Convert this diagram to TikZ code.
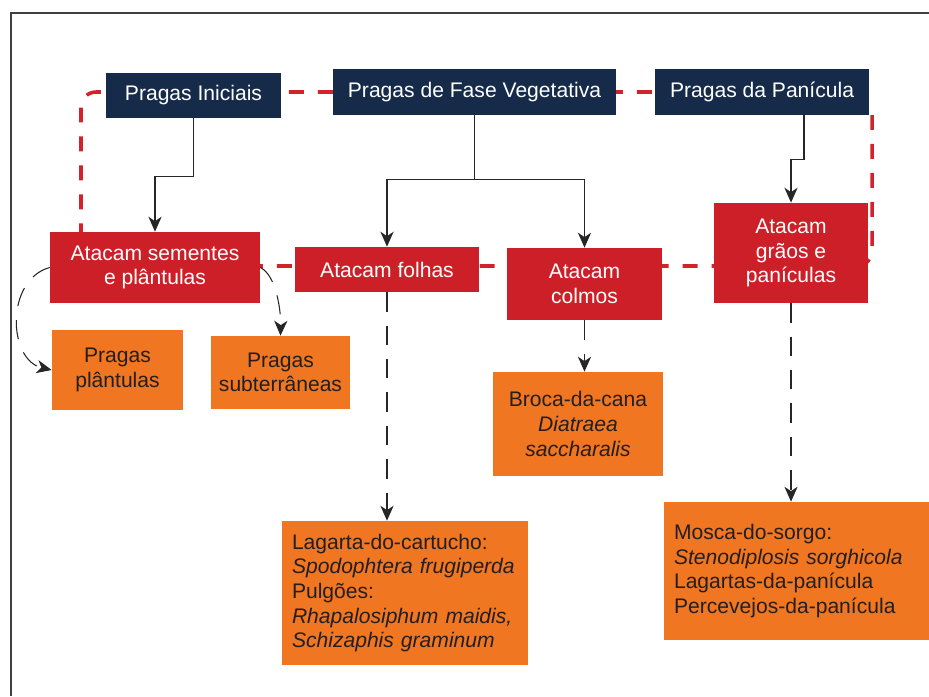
\documentclass[tikz,border=0pt]{standalone}
\usepackage{fontspec}
\setmainfont{Liberation Sans}
\usetikzlibrary{arrows.meta, positioning, backgrounds}

\definecolor{navy}{RGB}{22,42,74}
\definecolor{pestred}{RGB}{204,31,39}
\definecolor{pestorange}{RGB}{240,118,34}
\definecolor{inkdark}{RGB}{35,31,32}
\definecolor{loopred}{RGB}{210,35,42}

\begin{document}
\begin{tikzpicture}[x=0.02cm, y=-0.02cm, >={Stealth[length=8.5pt, width=7.5pt, inset=2.5pt]},
  font=\fontsize{12}{14}\selectfont,
  phase/.style={fill=navy, text=white, inner sep=0pt, align=center},
  attack/.style={fill=pestred, text=white, inner sep=0pt, align=center},
  pest/.style={fill=pestorange, text=inkdark, inner sep=0pt, align=center},
  pestlist/.style={fill=pestorange, text=inkdark, inner xsep=0.2cm, inner ysep=0pt, align=left},
  link/.style={->, line width=0.7pt, draw=black!85},
  guess/.style={->, line width=0.6pt, draw=black!85, dash pattern=on 11pt off 8pt},
  redloop/.style={draw=loopred, line width=2pt, dash pattern=on 8.5pt off 8pt, rounded corners=0.3cm}]

  \useasboundingbox (0,0) rectangle (929,696);
  \draw[line width=1pt, black!75] (11,696) -- (11,13) -- (929,13);

  % fases
  \node[phase, minimum width=3.5cm, minimum height=0.9cm] (ini) at (193.5,95.5) {Pragas Iniciais};
  \node[phase, minimum width=5.66cm, minimum height=0.92cm] (veg) at (474.5,92) {Pragas de Fase Vegetativa};
  \node[phase, minimum width=4.28cm, minimum height=0.92cm] (pan) at (762,92) {Pragas da Panícula};

  % o que atacam
  \node[attack, minimum width=4.2cm, minimum height=1.42cm] (sem) at (155,267.5) {Atacam sementes\\e plântulas};
  \node[attack, minimum width=3.68cm, minimum height=0.9cm] (fol) at (387,269.5) {Atacam folhas};
  \node[attack, minimum width=3.1cm, minimum height=1.44cm] (col) at (584.5,284) {Atacam\\colmos};
  \node[attack, minimum width=3.08cm, minimum height=2cm] (gra) at (791,253) {Atacam\\grãos e\\panículas};

  % pragas
  \node[pest, minimum width=2.62cm, minimum height=1.6cm] (pla) at (117.5,370) {Pragas\\plântulas};
  \node[pest, minimum width=2.78cm, minimum height=1.46cm] (sub) at (280.5,372.5) {Pragas\\subterrâneas};
  \node[pest, minimum width=3.4cm, minimum height=2.08cm] (bro) at (578,424) {Broca-da-cana\\\textit{Diatraea}\\\textit{saccharalis}};
  \node[pestlist, text width=4.52cm, minimum height=2.88cm] (lag) at (405,593) {Lagarta-do-cartucho:\\\textit{Spodophtera frugiperda}\\Pulgões:\\\textit{Rhapalosiphum maidis,}\\\textit{Schizaphis graminum}};
  \node[pestlist, text width=4.9cm, minimum height=2.76cm] (mos) at (796.5,571) {Mosca-do-sorgo:\\\textit{Stenodiplosis sorghicola}\\Lagartas-da-panícula\\Percevejos-da-panícula};

  % laco tracejado atras das caixas
  \begin{pgfonlayer}{background}
    \draw[redloop] (872,115) -- (872,266) -- (81,266) -- (81,92) -- (860,92);
  \end{pgfonlayer}

  \draw[link] (ini.south) -- ++(0,58) -| (sem.north);
  \draw[link] (veg.south) -- ++(0,64) coordinate (vegfork) -| (fol.north);
  \draw[link] (vegfork) -| (col.north);
  \draw[link] ([xshift=0.84cm]pan.south) -- ++(0,44) -| (gra.north);

  \draw[guess] (sem.west) .. controls (5,280) and (8,360) .. (pla.west);
  \draw[guess] (sem.east) .. controls (276,275) and (281,310) .. (sub.north);
  \draw[guess] (fol.south) -- (fol.south |- lag.north);
  \draw[guess] (col.south) -- (col.south |- bro.north);
  \draw[guess] (gra.south) -- (gra.south |- mos.north);
\end{tikzpicture}
\end{document}
